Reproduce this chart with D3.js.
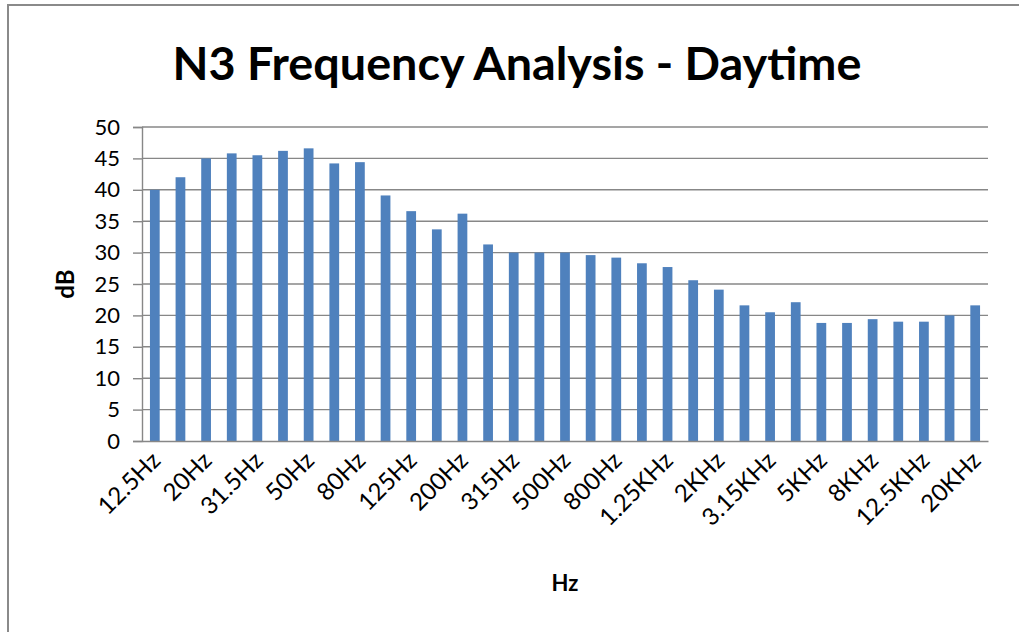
<!DOCTYPE html>
<html>
<head>
<meta charset="utf-8">
<script src="https://cdn.jsdelivr.net/npm/d3@7/dist/d3.min.js"></script>
<style>
  html, body { margin: 0; padding: 0; background: #fff; overflow: hidden; }
  svg { display: block; }
  text { font-family: Lato, "Open Sans", sans-serif; fill: #000; }
</style>
</head>
<body>
<svg id="chart" width="1019" height="632"></svg>
<script>
// One-third octave bands, 12.5 Hz to 20 kHz
const bands = ["12.5Hz","16Hz","20Hz","25Hz","31.5Hz","40Hz","50Hz","63Hz","80Hz","100Hz",
  "125Hz","160Hz","200Hz","250Hz","315Hz","400Hz","500Hz","630Hz","800Hz","1KHz",
  "1.25KHz","1.6KHz","2KHz","2.5KHz","3.15KHz","4KHz","5KHz","6.3KHz","8KHz","10KHz",
  "12.5KHz","16KHz","20KHz"];

// Measured level per band (dB)
const levels = [40.0, 42.0, 45.0, 45.8, 45.5, 46.2, 46.6, 44.2, 44.4, 39.1,
  36.6, 33.7, 36.2, 31.3, 30.0, 30.0, 30.0, 29.6, 29.2, 28.3,
  27.7, 25.6, 24.1, 21.6, 20.5, 22.1, 18.8, 18.8, 19.4, 19.0,
  19.0, 20.0, 21.6];

// Every other band is labelled on the axis
const shownLabels = bands.filter((d, i) => i % 2 === 0);

const yTicks = [0, 5, 10, 15, 20, 25, 30, 35, 40, 45, 50];

const chartTitle = "N3 Frequency Analysis - Daytime";
const xTitle = "Hz";
const yTitle = "dB";

const svg = d3.select("#chart");

// Outer chart frame (left and top edges fall inside the view)
svg.append("path")
  .attr("d", "M8,640 L8,5 L1030,5")
  .attr("fill", "none")
  .attr("stroke", "#8a8a8a")
  .attr("stroke-width", 2);

const plot = { left: 142, right: 988, top: 127, bottom: 441 };

const x = d3.scaleBand()
  .domain(bands)
  .range([plot.left, plot.right])
  .paddingInner(0.62)
  .paddingOuter(0.31);

const y = d3.scaleLinear()
  .domain([0, 50])
  .range([plot.bottom, plot.top]);

// Horizontal gridlines
svg.append("g")
  .selectAll("line")
  .data(yTicks.filter(t => t > 0))
  .join("line")
  .attr("x1", plot.left).attr("x2", plot.right)
  .attr("y1", d => y(d)).attr("y2", d => y(d))
  .attr("stroke", "#878787")
  .attr("stroke-width", 1.4);

// Bars
svg.append("g")
  .selectAll("rect")
  .data(levels)
  .join("rect")
  .attr("x", (d, i) => x(bands[i]))
  .attr("width", x.bandwidth())
  .attr("y", d => y(d))
  .attr("height", d => y(0) - y(d))
  .attr("fill", "#4f81bd");

// Y axis
const yAxis = svg.append("g")
  .attr("transform", `translate(${plot.left},0)`)
  .call(d3.axisLeft(y).tickValues(yTicks).tickSize(9).tickPadding(13));
yAxis.select(".domain").attr("stroke", "#878787").attr("stroke-width", 1.4);
yAxis.selectAll(".tick line").attr("stroke", "#878787").attr("stroke-width", 1.4);
yAxis.selectAll(".tick text")
  .attr("font-family", "Lato, sans-serif")
  .attr("font-size", 22)
  .attr("fill", "#222");

// X axis
const xAxis = svg.append("g")
  .attr("transform", `translate(0,${plot.bottom})`)
  .call(d3.axisBottom(x).tickValues(shownLabels).tickSize(0).tickPadding(0));
xAxis.select(".domain").attr("stroke", "#878787").attr("stroke-width", 1.4);
xAxis.selectAll(".tick text")
  .attr("font-family", "Lato, sans-serif")
  .attr("font-size", 24)
  .attr("fill", "#222")
  .attr("text-anchor", "end")
  .attr("dy", 0)
  .attr("transform", "translate(7,21) rotate(-45)");

// Title, fitted to its measured width
const title = svg.append("text")
  .attr("x", 517).attr("y", 80)
  .attr("text-anchor", "middle")
  .attr("font-weight", "bold")
  .attr("font-size", 44)
  .text(chartTitle);
const tw = title.node().getComputedTextLength();
title.attr("font-size", 44 * 689 / tw);

// Axis titles
svg.append("text")
  .attr("x", (plot.left + plot.right) / 2).attr("y", 591)
  .attr("text-anchor", "middle")
  .attr("font-weight", "bold")
  .attr("font-size", 22)
  .text(xTitle);

svg.append("text")
  .attr("transform", `translate(74,${(plot.top + plot.bottom) / 2}) rotate(-90)`)
  .attr("text-anchor", "middle")
  .attr("font-weight", "bold")
  .attr("font-size", 24)
  .text(yTitle);
</script>
</body>
</html>
